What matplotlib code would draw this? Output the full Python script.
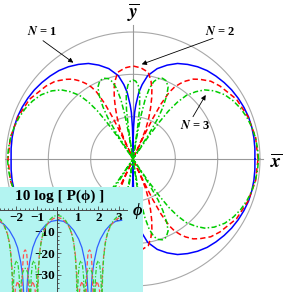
import numpy as np
import matplotlib
matplotlib.use("Agg")
import matplotlib.pyplot as plt

plt.rcParams['font.family'] = ['Liberation Serif', 'DejaVu Serif']
plt.rcParams['mathtext.fontset'] = 'stix'

# polar pattern, first quadrant only (angle from x axis in deg -> dB)
ang1 = [0, 5, 10, 15, 20, 25, 30, 35, 40, 45, 50, 55, 60, 65, 70, 75, 80,
        83, 85, 87, 88, 89, 89.6, 90]
db1 = [-1.2, -1.1, -1.0, -0.95, -0.95, -1.1, -1.3, -1.55, -1.9, -2.3, -2.75,
       -3.4, -4.2, -5.1, -6.4, -7.9, -10.0, -12.3, -14.2, -17.2, -19.0, -22.5,
       -26, -40]

ang2 = [0, 10, 20, 30, 40, 45, 50, 53, 56, 58, 60, 61.5, 63, 64, 64.7, 65,
        66, 67, 69, 71, 73, 75, 77, 80, 85, 90]
db2 = [-0.47, -0.59, -1.06, -1.77, -3.19, -4.02, -5.43, -6.38, -7.8, -8.98,
       -10.39, -12.05, -15.36, -19.37, -24.1, -40, -24.8, -22.2, -19.6,
       -17.25, -14.9, -12.76, -11.1, -9.21, -8.39, -8.03]

ang3 = [0, 5, 10, 15, 20, 25, 30, 35, 40, 44, 47, 50, 52, 53.5, 54.5, 55.5,
        56.5, 57.5, 58.5, 60, 62, 64, 67, 70, 73, 75, 77, 78.5, 79.5, 80.3,
        81, 81.6, 82.5, 84, 86, 88, 90]
db3 = [-0.35, -0.47, -0.64, -0.94, -1.35, -1.89, -2.6, -3.54, -4.96, -6.5,
       -8.27, -10.39, -12.99, -15.83, -19.37, -24.1, -40, -22.9, -18.66,
       -15.83, -12.99, -11.1, -9.92, -9.69, -10.16, -11.1, -12.99, -15.83,
       -19.37, -24.1, -40, -22.9, -18.19, -14.65, -12.52, -11.58, -11.34]

rings_db = [0, -10, -20]

# inset: 10 log P(phi), phi in [0, pi/2]
ph_b = [0, 0.3, 0.55, 0.8, 1.04, 1.2, 1.35, 1.45, 1.52, np.pi / 2]
in_b = [-4.8, -5.3, -6.8, -9.5, -13.5, -17.5, -24, -31, -42, -60]
ph_r = [0, 0.2, 0.4, 0.55, 0.7, 0.8, 0.88, 0.95, 1.0, 1.1, 1.2, 1.3, 1.38,
        1.45, 1.5, np.pi / 2]
in_r = [-3.5, -4, -5.5, -7.5, -11, -15, -21, -30, -45, -36, -33, -36, -45,
        -26, -19.5, -18.5]
ph_g = [0, 0.2, 0.4, 0.55, 0.7, 0.8, 0.88, 0.93, 0.97, 1.02, 1.08, 1.15,
        1.22, 1.28, 1.32, 1.38, 1.45, 1.52, np.pi / 2]
in_g = [-2.5, -3, -4.8, -7.2, -11, -15.5, -22, -30, -45, -30, -25, -23.5,
        -25, -31, -45, -33, -29, -27.5, -27]

FLOOR = 30  # dB shown below the peak


def full_circle(a, d):
    a = np.asarray(a, float)
    d = np.asarray(d, float)
    ang = np.concatenate([a, 180 - a[::-1], 180 + a, 360 - a[::-1]])
    db = np.concatenate([d, d[::-1], d, d[::-1]])
    return np.radians(ang), db


def full_line(p, d):
    p = np.asarray(p, float)
    d = np.asarray(d, float)
    half = np.concatenate([p, np.pi - p[::-1]])
    dh = np.concatenate([d, d[::-1]])
    return np.concatenate([-half[::-1], half]), np.concatenate([dh[::-1], dh])


W, H = 284, 292
cx, cy = 133, 159
scale = 127 / FLOOR

fig = plt.figure(figsize=(W / 100, H / 100), dpi=100)
ax = fig.add_axes([0, 0, 1, 1])
ax.set_xlim(-cx / scale, (W - cx) / scale)
ax.set_ylim(-(H - cy) / scale, cy / scale)
ax.axis('off')

t = np.linspace(0, 2 * np.pi, 400)
for rd in rings_db:
    ax.plot((rd + FLOOR) * np.cos(t), (rd + FLOOR) * np.sin(t),
            color='#a8a8a8', lw=0.8, zorder=1)
ax.plot([-30.2, 30.7], [0, 0], color='#999999', lw=0.8, zorder=1)
ax.plot([0, 0], [-31.5, 31.7], color='#999999', lw=0.8, zorder=1)

styles = [
    (ang1, db1, dict(color='#0000ff', lw=1.1, ls='-')),
    (ang2, db2, dict(color='#ff0000', lw=1.1, dashes=(3.5, 2))),
    (ang3, db3, dict(color='#00cc00', lw=1.1, dashes=(3.5, 1.5, 1, 1.5))),
]
for a, d, kw in styles:
    th, db = full_circle(a, d)
    r = np.clip(db + FLOOR, 0, None)
    ax.plot(r * np.cos(th), r * np.sin(th), zorder=3, **kw)

ax.text(0, 34.6, r'$\overline{\mathbfit{y}}$', fontsize=14, ha='center', va='center')
ax.text(33.8, -0.7, r'$\overline{\mathbfit{x}}$', fontsize=14, ha='center', va='center')

arrow = dict(arrowstyle='-|>', color='black', lw=0.6, mutation_scale=7,
             shrinkA=0, shrinkB=0)
ax.annotate('', xy=(-14.1, 22.75), xytext=(-21.26, 27.95), arrowprops=arrow)
ax.annotate('', xy=(2.06, 22.37), xytext=(18.9, 28.5), arrowprops=arrow)
ax.annotate('', xy=(17.17, 15.12), xytext=(14.17, 9.99), arrowprops=arrow)
for x, y, n in [(-21.5, 30.1, 1), (20.55, 30.1, 2), (14.8, 7.8, 3)]:
    ax.text(x, y, r'$\mathbfit{N}$ = %d' % n, fontsize=9, fontweight='bold',
            ha='center', va='center')

# inset
x0, xs = 57.3, 20.5
y0, ys = 210, 2.17
iw, ih = 143, 105
axi = fig.add_axes([0, 0, iw / W, ih / H], zorder=5)
axi.set_facecolor('#b3f4f1')
axi.set_xlim(-x0 / xs, (iw - x0) / xs)
axi.set_ylim(-(H - y0) / ys, (y0 - (H - ih)) / ys)

inset_styles = [
    (ph_b, in_b, dict(color='#3060ff', lw=0.9, ls='-')),
    (ph_r, in_r, dict(color='#ff5050', lw=0.9, dashes=(3.5, 2))),
    (ph_g, in_g, dict(color='#30d030', lw=0.9, dashes=(3.5, 1.5, 1, 1.5))),
]
for p, d, kw in inset_styles:
    pp, dd = full_line(p, d)
    axi.plot(pp, dd, **kw)

for s in ['top', 'right']:
    axi.spines[s].set_visible(False)
axi.spines['left'].set_position('zero')
axi.spines['bottom'].set_position('zero')
axi.spines['bottom'].set_bounds(-2.8, 3.42)
axi.spines['left'].set_bounds(-38, 1.5)
for s in ['left', 'bottom']:
    axi.spines[s].set_color('#444444')
    axi.spines[s].set_linewidth(0.7)
axi.set_xticks([-2, -1, 1, 2, 3])
axi.set_xticks(np.arange(-2.8, 3.3, 0.2), minor=True)
axi.set_yticks([-10, -20, -30])
axi.set_yticks(np.arange(-38, 1, 2), minor=True)
axi.tick_params(which='both', direction='in', color='#444444', width=0.6,
                labelsize=9.5, pad=1.5)
axi.tick_params(which='major', length=3)
axi.tick_params(which='minor', length=1.5)
for lab in axi.get_xticklabels() + axi.get_yticklabels():
    lab.set_fontweight('bold')

axi.text(0.42, 0.91, '10 log [ P(ϕ) ]', transform=axi.transAxes,
         fontsize=11, fontweight='bold', ha='center', va='center')
axi.text(0.965, 0.77, 'ϕ', transform=axi.transAxes, fontsize=12,
         fontweight='bold', fontstyle='italic', ha='center', va='center')

fig.savefig('out.png', dpi=100)
